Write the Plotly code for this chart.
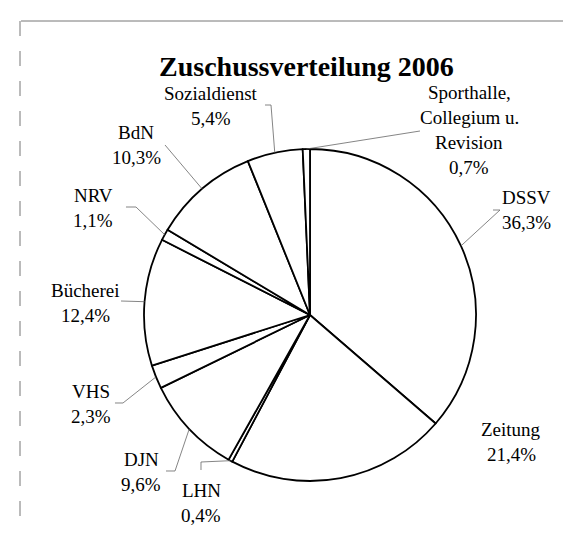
import math
import plotly.graph_objects as go

# ---- data ----
labels = ["DSSV", "Zeitung", "LHN", "DJN", "VHS", "Bücherei", "NRV", "BdN",
          "Sozialdienst", "Sporthalle, Collegium u. Revision"]
label_lines = [["DSSV"], ["Zeitung"], ["LHN"], ["DJN"], ["VHS"], ["Bücherei"],
               ["NRV"], ["BdN"], ["Sozialdienst"], ["Sporthalle,", "Collegium u.", "Revision"]]
values = [36.3, 21.4, 0.4, 9.6, 2.3, 12.4, 1.1, 10.3, 5.4, 0.7]
pct_text = ["36,3%", "21,4%", "0,4%", "9,6%", "2,3%", "12,4%", "1,1%", "10,3%", "5,4%", "0,7%"]
title_text = "Zuschussverteilung 2006"

# ---- layout constants (pixels) ----
W, H = 571, 534
CX, CY, R = 302, 307, 166
FONT = "Liberation Serif, Times New Roman, serif"
LINE_GAP = 25
# label text centre (x, y) in px
label_pos = [(518, 202), (503, 434), (193, 495), (133, 464), (83, 396), (77, 295),
             (85, 200), (128, 137), (203, 98), (461, 122)]
# leader line starting points (label side), None = no leader
leader_start = [[(485, 202), (492, 202)], None, [(193, 462), (193, 454)],
                [(158, 463), (167, 463)], [(107, 395), (115, 395)], [(113, 293)],
                [(118, 199), (128, 199)], [(157, 137)], [(257, 97), (263, 97)],
                [(412, 123)]]


def px(x):
    return x / W


def py(y):
    return 1 - y / H


fig = go.Figure(go.Pie(
    labels=labels, values=values, sort=False, direction="clockwise", rotation=0,
    textinfo="none", hoverinfo="label+percent",
    marker=dict(colors=["white"] * len(values), line=dict(color="black", width=1.8)),
    domain=dict(x=[px(CX - R), px(CX + R)], y=[py(CY + R), py(CY - R)]),
    showlegend=False,
))

total = sum(values)
annotations = []
shapes = []
cum = 0.0
for i, v in enumerate(values):
    mid = (cum + v / 2) / total * 360.0
    cum += v
    ex = CX + R * math.sin(math.radians(mid))
    ey = CY - R * math.cos(math.radians(mid))
    lines = label_lines[i] + [pct_text[i]]
    lx, ly = label_pos[i]
    n = len(lines)
    for k, t in enumerate(lines):
        yy = ly + (k - (n - 1) / 2) * LINE_GAP
        annotations.append(dict(x=px(lx), y=py(yy), xref="paper", yref="paper",
                                text=t, showarrow=False, xanchor="center", yanchor="middle",
                                font=dict(family=FONT, size=19, color="black")))
    if leader_start[i]:
        pts = leader_start[i] + [(ex, ey)]
        path = "M " + " L ".join(f"{px(a):.5f},{py(b):.5f}" for a, b in pts)
        shapes.append(dict(type="path", path=path, xref="paper", yref="paper",
                           line=dict(color="#666666", width=0.8)))

# scanned frame (top and left edges)
shapes.append(dict(type="line", xref="paper", yref="paper", x0=px(13), y0=py(13),
                   x1=px(568), y1=py(13), line=dict(color="#777777", width=1)))
shapes.append(dict(type="line", xref="paper", yref="paper", x0=px(12), y0=py(13),
                   x1=px(12), y1=py(523), line=dict(color="#777777", width=1, dash="longdash")))

annotations.append(dict(x=px(298), y=py(58), xref="paper", yref="paper", text=f"<b>{title_text}</b>",
                        showarrow=False, xanchor="center", yanchor="middle",
                        font=dict(family=FONT, size=28, color="black")))

fig.update_layout(width=W, height=H, margin=dict(l=0, r=0, t=0, b=0),
                  paper_bgcolor="white", plot_bgcolor="white",
                  annotations=annotations, shapes=shapes)

fig.write_html("out.html")
